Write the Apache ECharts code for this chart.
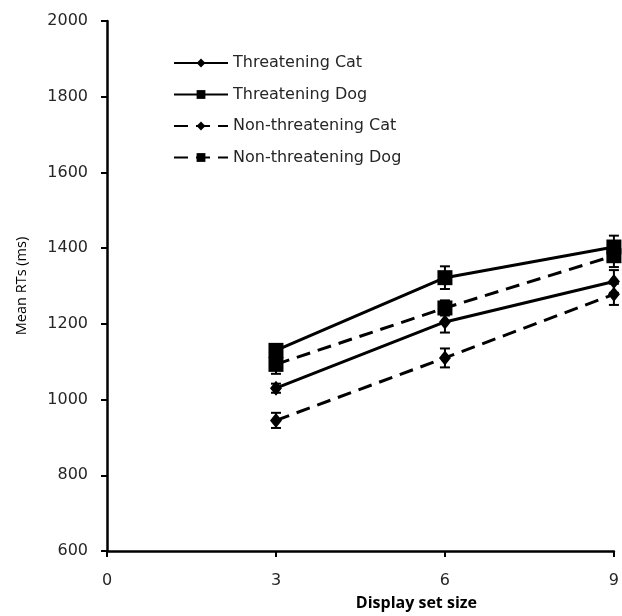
<!DOCTYPE html>
<html>
<head>
<meta charset="utf-8">
<script src="https://cdn.jsdelivr.net/npm/echarts@6/dist/echarts.min.js"></script>
<style>html,body{margin:0;padding:0;background:#fff;}#c{width:622px;height:616px;}</style>
</head>
<body>
<div id="c"></div>
<script>
var setSizes = [3, 6, 9];
var seriesNames = ['Threatening Cat', 'Threatening Dog', 'Non-threatening Cat', 'Non-threatening Dog'];
var threateningCat = [1030, 1205, 1312];
var threateningDog = [1130, 1322, 1403];
var nonThreateningCat = [945, 1110, 1278];
var nonThreateningDog = [1093, 1242, 1380];
var errThreateningCat = [12, 28, 30];
var errThreateningDog = [15, 30, 30];
var errNonThreateningCat = [20, 25, 28];
var errNonThreateningDog = [25, 20, 30];

var means = [threateningCat, threateningDog, nonThreateningCat, nonThreateningDog];
var errs = [errThreateningCat, errThreateningDog, errNonThreateningCat, errNonThreateningDog];
var symbols = ['diamond', 'rect', 'diamond', 'rect'];
var symbolSizes = [[12, 15], 15, [12, 15], 15];
var dashed = [false, false, true, true];

var FONT = 'Open Sans';
var WIDE = 'DejaVu Sans';
var series = [];
means.forEach(function (vals, i) {
  series.push({
    name: seriesNames[i],
    type: 'line',
    data: vals.map(function (v, j) { return [setSizes[j], v]; }),
    symbol: symbols[i],
    symbolSize: symbolSizes[i],
    showAllSymbol: true,
    itemStyle: { color: '#000' },
    lineStyle: { color: '#000', width: 3, type: dashed[i] ? [14, 8] : 'solid' },
    z: 3,
    animation: false
  });
  series.push({
    type: 'custom',
    data: vals.map(function (v, j) { return [setSizes[j], v - errs[i][j], v + errs[i][j]]; }),
    renderItem: function (params, api) {
      var x = api.value(0);
      var lo = api.coord([x, api.value(1)]);
      var hi = api.coord([x, api.value(2)]);
      var hw = 5;
      var st = { stroke: '#000', lineWidth: 2 };
      return {
        type: 'group',
        children: [
          { type: 'line', shape: { x1: lo[0], y1: lo[1], x2: hi[0], y2: hi[1] }, style: st },
          { type: 'line', shape: { x1: lo[0] - hw, y1: lo[1], x2: lo[0] + hw, y2: lo[1] }, style: st },
          { type: 'line', shape: { x1: hi[0] - hw, y1: hi[1], x2: hi[0] + hw, y2: hi[1] }, style: st }
        ]
      };
    },
    z: 2,
    animation: false
  });
});

var chart = echarts.init(document.getElementById('c'), null, { renderer: 'canvas' });
chart.setOption({
  backgroundColor: '#fff',
  animation: false,
  textStyle: { fontFamily: FONT },
  grid: { left: 107, top: 21, right: -3, bottom: 55 },
  legend: {
    data: seriesNames,
    orient: 'vertical',
    left: 168,
    top: 50,
    itemWidth: 54,
    itemHeight: 11,
    itemGap: 15.5,
    textStyle: { fontFamily: WIDE, fontSize: 16, color: '#262626' }
  },
  xAxis: {
    type: 'value',
    min: 0,
    max: 9,
    interval: 3,
    name: 'Display set size',
    nameLocation: 'middle',
    nameGap: 44,
    nameTextStyle: { fontFamily: FONT, fontSize: 16, fontWeight: 'bold', color: '#000', padding: [0, 0, 0, 112] },
    splitLine: { show: false },
    axisLine: { lineStyle: { color: '#000', width: 2.5 } },
    axisTick: { inside: false, length: 6, lineStyle: { color: '#000', width: 2 } },
    axisLabel: { margin: 22, fontSize: 16, color: '#262626', fontFamily: WIDE, formatter: function (v) { return String(v); } }
  },
  yAxis: {
    type: 'value',
    min: 600,
    max: 2000,
    interval: 200,
    name: 'Mean RTs (ms)',
    nameLocation: 'middle',
    nameGap: 78,
    nameTextStyle: { fontFamily: FONT, fontSize: 14.5, color: '#000' },
    splitLine: { show: false },
    axisLine: { show: true, lineStyle: { color: '#000', width: 2.5 } },
    axisTick: { show: true, inside: false, length: 6, lineStyle: { color: '#000', width: 2 } },
    axisLabel: { margin: 19, fontSize: 16, color: '#262626', fontFamily: WIDE, formatter: function (v) { return String(v); } }
  },
  series: series
});
</script>
</body>
</html>
